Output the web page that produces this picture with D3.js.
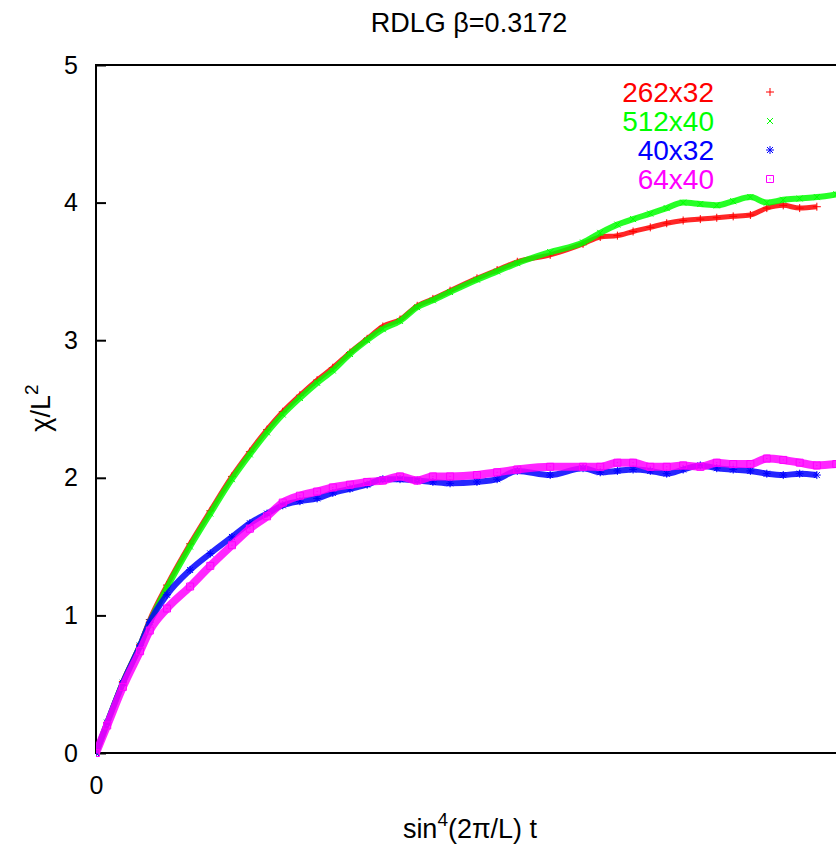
<!DOCTYPE html>
<html>
<head>
<meta charset="utf-8">
<script src="https://cdn.jsdelivr.net/npm/d3@7"></script>
<style>
  body { margin: 0; background: #fff; }
  svg { font-family: "Liberation Sans", Arial, sans-serif; }
</style>
</head>
<body>
<div id="chart"></div>
<script>
// sample times (arbitrary units)
var times = [0, 1.5, 3.6, 5.9, 7.2, 9.5, 12.6, 15.3, 18.2, 20.6, 22.9, 25.0, 27.3, 29.6, 31.7, 34.0,
  36.3, 38.4, 40.7, 43.0, 45.1, 47.4, 51.0, 53.7, 56.4, 60.8, 65.2, 67.5, 69.8, 71.9, 74.2, 76.4,
  78.6, 80.9, 83.1, 85.3, 87.6, 89.8, 92.0, 94.2, 96.5, 99.1];

var red262x32 = [0, 0.22, 0.52, 0.79, 0.97, 1.22, 1.52, 1.76, 2.01, 2.19, 2.35, 2.48, 2.60, 2.71, 2.80, 2.91,
  3.01, 3.10, 3.15, 3.25, 3.30, 3.36, 3.45, 3.51, 3.57, 3.62, 3.70, 3.75, 3.76, 3.79, 3.82, 3.85,
  3.87, 3.88, 3.89, 3.90, 3.91, 3.96, 3.98, 3.96, 3.97, null];

var green512x40 = [0, 0.22, 0.51, 0.78, 0.95, 1.20, 1.50, 1.74, 1.99, 2.17, 2.33, 2.46, 2.58, 2.69, 2.78, 2.90,
  3.00, 3.08, 3.14, 3.24, 3.29, 3.35, 3.44, 3.50, 3.56, 3.64, 3.71, 3.78, 3.84, 3.88, 3.92, 3.96,
  4.00, 3.99, 3.98, 4.01, 4.04, 4.00, 4.02, 4.03, 4.04, 4.06];

var blue40x32 = [0, 0.22, 0.51, 0.78, 0.95, 1.15, 1.33, 1.45, 1.57, 1.67, 1.74, 1.80, 1.83, 1.85, 1.89, 1.92,
  1.95, 1.99, 1.99, 1.98, 1.97, 1.96, 1.97, 1.99, 2.05, 2.02, 2.07, 2.04, 2.05, 2.06, 2.05, 2.03,
  2.06, 2.09, 2.07, 2.06, 2.05, 2.03, 2.02, 2.03, 2.02, null];

var magenta64x40 = [0, 0.20, 0.48, 0.74, 0.89, 1.05, 1.21, 1.36, 1.51, 1.63, 1.72, 1.82, 1.87, 1.90, 1.93, 1.95,
  1.97, 1.98, 2.01, 1.98, 2.01, 2.01, 2.02, 2.04, 2.06, 2.08, 2.08, 2.08, 2.11, 2.11, 2.08, 2.08,
  2.09, 2.08, 2.11, 2.10, 2.10, 2.14, 2.13, 2.11, 2.09, 2.10];

var seriesNames = ['262x32', '512x40', '40x32', '64x40'];
var yTicks = [0, 1, 2, 3, 4, 5];
var xTicks = [0];

var svgWidth = 836, svgHeight = 850;
var plotLeft = 96, plotTop = 65, plotBottom = 753, plotRight = 843;

var svg = d3.select('#chart').append('svg')
  .attr('width', svgWidth)
  .attr('height', svgHeight);

var x = d3.scaleLinear().domain([0, 100]).range([plotLeft, plotRight]);
var y = d3.scaleLinear().domain([0, 5]).range([plotBottom, plotTop]);

// marker glyphs, gnuplot style
var glyphs = {
  plus: 'M-4,0H4M0,-4V4',
  cross: 'M-3,-3L3,3M-3,3L3,-3',
  star: 'M-4,0H4M0,-4V4M-3,-3L3,3M-3,3L3,-3',
  box: 'M-3.5,-3.5H3.5V3.5H-3.5Z M-0.6,0H0.6'
};

var series = [
  { name: seriesNames[0], values: red262x32, color: '#ff0000', glyph: 'plus', band: 5 },
  { name: seriesNames[1], values: green512x40, color: '#00ff00', glyph: 'cross', band: 6 },
  { name: seriesNames[2], values: blue40x32, color: '#0000ff', glyph: 'star', band: 6 },
  { name: seriesNames[3], values: magenta64x40, color: '#ff00ff', glyph: 'box', band: 8 }
];

svg.append('clipPath').attr('id', 'plotclip')
  .append('rect')
  .attr('x', plotLeft).attr('y', plotTop - 5)
  .attr('width', plotRight - plotLeft).attr('height', plotBottom - plotTop + 10);

// axes with inward ticks
var yAxis = d3.axisLeft(y).tickValues(yTicks).tickFormat(d3.format('d'))
  .tickSizeInner(-10).tickSizeOuter(0).tickPadding(18);
var gy = svg.append('g').attr('transform', 'translate(' + plotLeft + ',0)').call(yAxis);
gy.select('.domain').remove();
gy.selectAll('line').attr('stroke', '#000').attr('stroke-width', 2);
gy.selectAll('text').attr('font-size', 25).attr('fill', '#000')
  .attr('font-family', '"Liberation Sans", Arial, sans-serif');

var xAxis = d3.axisBottom(x).tickValues(xTicks).tickFormat(d3.format('d'))
  .tickSizeInner(-10).tickSizeOuter(0).tickPadding(23);
var gx = svg.append('g').attr('transform', 'translate(0,' + plotBottom + ')').call(xAxis);
gx.select('.domain').remove();
gx.selectAll('line').attr('stroke', '#000').attr('stroke-width', 2);
gx.selectAll('text').attr('font-size', 25).attr('fill', '#000')
  .attr('font-family', '"Liberation Sans", Arial, sans-serif');

// frame (right side falls outside the picture)
svg.append('path')
  .attr('d', 'M' + (plotRight + 40) + ',' + plotTop + 'H' + plotLeft + 'V' + plotBottom + 'H' + (plotRight + 40))
  .attr('fill', 'none')
  .attr('stroke', '#000')
  .attr('stroke-width', 2);

var plot = svg.append('g').attr('clip-path', 'url(#plotclip)');

var line = d3.line()
  .defined(function(d) { return d.v !== null; })
  .x(function(d) { return x(d.t); })
  .y(function(d) { return y(d.v); })
  .curve(d3.curveMonotoneX);

series.forEach(function(s) {
  var pts = times.map(function(t, i) { return { t: t, v: s.values[i] }; });
  var g = plot.append('g');
  g.append('path')
    .datum(pts)
    .attr('d', line)
    .attr('fill', 'none')
    .attr('stroke', s.color)
    .attr('stroke-width', s.band)
    .attr('stroke-linejoin', 'round')
    .attr('opacity', 0.85);
  g.selectAll('path.mark')
    .data(pts.filter(function(d) { return d.v !== null; }))
    .enter()
    .append('path')
    .attr('class', 'mark')
    .attr('d', glyphs[s.glyph])
    .attr('transform', function(d) { return 'translate(' + x(d.t) + ',' + y(d.v) + ')'; })
    .attr('fill', 'none')
    .attr('stroke', s.color)
    .attr('stroke-width', 1);
});

// legend
var legend = svg.append('g');
series.forEach(function(s, i) {
  var ly = 92 + i * 29;
  legend.append('text')
    .attr('x', 714).attr('y', ly)
    .attr('dy', '0.36em')
    .attr('text-anchor', 'end')
    .attr('font-size', 28)
    .attr('fill', s.color)
    .text(s.name);
  legend.append('path')
    .attr('d', glyphs[s.glyph])
    .attr('transform', 'translate(770,' + ly + ')')
    .attr('fill', 'none')
    .attr('stroke', s.color)
    .attr('stroke-width', 1);
});

// title and labels
svg.append('text')
  .attr('x', 469).attr('y', 32)
  .attr('text-anchor', 'middle')
  .attr('font-size', 27)
  .text('RDLG β=0.3172');

var xl = svg.append('text')
  .attr('x', 470).attr('y', 838)
  .attr('text-anchor', 'middle')
  .attr('font-size', 27);
xl.append('tspan').text('sin');
xl.append('tspan').attr('dy', -12).attr('font-size', 19).text('4');
xl.append('tspan').attr('dy', 12).text('(2π/L) t');

var yl = svg.append('text')
  .attr('transform', 'translate(50,408) rotate(-90)')
  .attr('text-anchor', 'middle')
  .attr('font-size', 27);
yl.append('tspan').text('χ/L');
yl.append('tspan').attr('dy', -12).attr('font-size', 19).text('2');
</script>
</body>
</html>
